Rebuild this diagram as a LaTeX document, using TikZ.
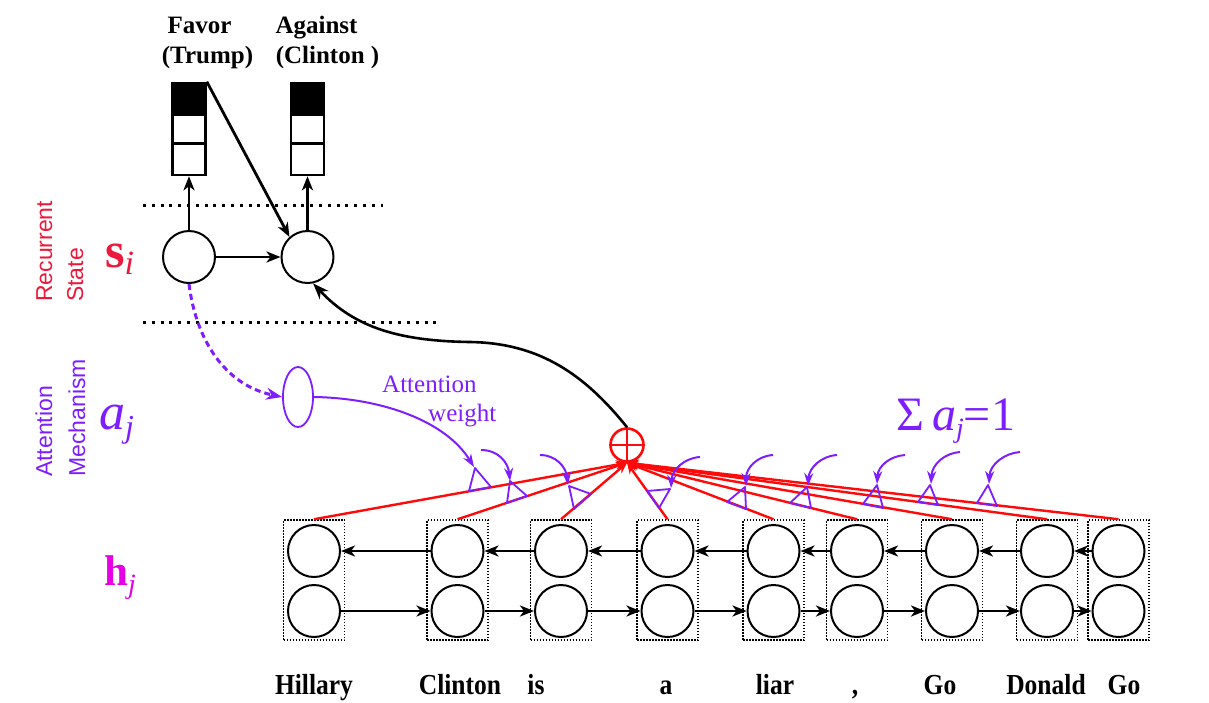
\documentclass[tikz,border=0pt]{standalone}
\usepackage{fontspec}
\setmainfont{Liberation Serif}
\newfontfamily\arialf{Liberation Sans}
\newfontfamily\condf[FakeStretch=0.88]{Liberation Serif}
\usetikzlibrary{arrows.meta,calc,shapes.geometric}
\definecolor{myred}{RGB}{235,25,60}
\definecolor{purp}{RGB}{125,30,255}
\definecolor{mag}{RGB}{230,0,230}
\definecolor{lred}{RGB}{255,10,10}
\begin{document}
\begin{tikzpicture}[x=1pt,y=-1pt,
  cell/.style={circle,draw,line width=2pt,minimum size=52pt,inner sep=0pt},
  hbox/.style={draw,line width=1.5pt,dash pattern=on 1.5pt off 1.5pt,minimum width=61pt,minimum height=120pt,inner sep=0pt},
  outbox/.style={draw,line width=2.6pt,minimum width=33pt,minimum height=92pt,inner sep=0pt},
  blk/.style={line width=2.8pt,-{Stealth[length=14pt,width=11pt,inset=4pt]}},
  redln/.style={draw=lred,line width=2.4pt,-{Stealth[length=11pt,width=9pt]}},
  pa/.style={draw=purp,line width=2pt,-{Stealth[length=13pt,width=9pt]}},
  tri/.style={draw=purp,line width=1.8pt,line join=round},
  dotln/.style={line width=3pt,dash pattern=on 3pt off 5.8pt},
  sidelab/.style={rotate=90,anchor=base west,inner sep=0pt,font=\arialf\fontsize{23}{28}\selectfont},
  toplab/.style={anchor=base,inner sep=0pt,font=\bfseries\fontsize{25}{30}\selectfont},
  word/.style={anchor=base,inner sep=0pt,font=\condf\bfseries\fontsize{29}{32}\selectfont}
]
\useasboundingbox (0,0) rectangle (1209,702);
\fill[white] (0,0) rectangle (1209,702);

% ---- output layer ----
\node[toplab] (fav) at (199.5,33) {Favor};
\node[toplab] (tru) at (207.5,63) {(Trump)};
\node[toplab] (aga) at (316.5,33) {Against};
\node[toplab] (cli) at (327.5,63) {(Clinton )};

\node[outbox] (o1) at (189,129) {};
\node[outbox] (o2) at (307.5,129) {};
\foreach \o in {o1,o2}{
  \fill (\o.north west) rectangle ($(\o.north east)+(0,33)$);
  \draw[line width=2.6pt] ($(\o.north west)+(0,33)$) -- ($(\o.north east)+(0,33)$);
  \draw[line width=2.6pt] ($(\o.north west)+(0,62)$) -- ($(\o.north east)+(0,62)$);
}

% ---- recurrent state ----
\coordinate (d1a) at (143,205); \coordinate (d1b) at (383,205);
\coordinate (d2a) at (143,322); \coordinate (d2b) at (440,322);
\draw[dotln] (d1a) -- (d1b);
\draw[dotln] (d2a) -- (d2b);

\node[cell] (c1) at (189,257) {};
\node[cell] (c2) at (307.5,257) {};
\draw[blk] (c1) -- (o1);
\draw[blk] (c2) -- (o2);
\draw[blk] (c1) -- (c2);
\draw[blk] (o1.north east) -- (c2.132);

\node[sidelab,text=myred] (rec) at (52,302) {Recurrent};
\node[sidelab,text=myred] (sta) at (83,302) {State};
\node[anchor=base west,inner sep=0pt,text=myred,font=\fontsize{50}{52}\selectfont] (si) at (105,267)
  {\textbf{s}\raisebox{-7pt}{\fontsize{34}{34}\selectfont\itshape i}};

% ---- attention ----
\node[sidelab,text=purp] (att) at (52,477) {Attention};
\node[sidelab,text=purp] (mec) at (85,477) {Mechanism};
\node[anchor=base west,inner sep=0pt,text=purp,font=\fontsize{52}{54}\selectfont\itshape] (aj) at (99,429)
  {a\raisebox{-8pt}{\fontsize{32}{32}\selectfont j}};

\node[draw=purp,ellipse,line width=1.8pt,minimum width=30pt,minimum height=60pt,inner sep=0pt] (ell) at (298,397) {};
\draw[draw=purp,line width=3pt,dash pattern=on 6pt off 4pt,-{Stealth[length=16pt,width=12pt]}]
  (c1.south) .. controls (196,340) and (225,385) .. (ell.west);

\node[anchor=base west,inner sep=0pt,text=purp,font=\fontsize{25}{30}\selectfont] (aw1) at (382,392) {Attention};
\node[anchor=base west,inner sep=0pt,text=purp,font=\fontsize{25}{30}\selectfont] (aw2) at (428,421) {weight};

\node[anchor=base west,inner sep=0pt,text=purp,font=\fontsize{48}{50}\selectfont] (sum) at (896,430)
  {Σ\,\textit{a}\raisebox{-7pt}{\fontsize{28}{28}\selectfont\textit{j}}=1};

% ---- encoder ----
\node[anchor=base west,inner sep=0pt,text=mag,font=\fontsize{43}{45}\selectfont] (hj) at (104,585)
  {\textbf{h}\raisebox{-8pt}{\fontsize{28}{28}\selectfont\itshape j}};

\foreach \i/\x in {1/314,2/457.5,3/561,4/667.5,5/773.5,6/857,7/952,8/1047,9/1118.5}{
  \node[hbox] (box\i) at (\x,580) {};
  \node[cell] (t\i) at (\x,551) {};
  \node[cell] (b\i) at (\x,611) {};
}
\foreach \i/\j in {1/2,2/3,3/4,4/5,5/6,6/7,7/8,8/9}{
  \draw[blk] (t\j) -- (t\i);
  \draw[blk] (b\i) -- (b\j);
}

% ---- combination ----
\node[circle,draw=lred,line width=2.6pt,minimum size=33pt,inner sep=0pt] (op) at (627,445) {};
\draw[lred,line width=2.6pt] (op.north) -- (op.south) (op.west) -- (op.east);
\foreach \i in {1,...,9}{
  \draw[redln] (box\i.north) -- (op.south);
}
\draw[line width=2.6pt,-{Stealth[length=16pt,width=12pt,inset=5pt]}]
  (op.north) .. controls (585,375) and (540,343) .. (470,342)
  .. controls (400,341) and (355,328) .. (c2.-78);

% ---- attention weights ----
\draw[pa] (ell.east) .. controls (380,398) and (445,420) .. (474,467);
\draw[pa] (481,450) .. controls (498,450) and (508,462) .. (510,481);
\draw[pa] (540,455) .. controls (556,455) and (566,467) .. (568,485);
\draw[pa] (700,457) .. controls (684,458) and (672,470) .. (671,488);
\draw[pa] (773,455) .. controls (757,456) and (746,468) .. (746,486);
\draw[pa] (837,455) .. controls (821,456) and (809,468) .. (808,486);
\draw[pa] (905,455) .. controls (890,456) and (878,466) .. (877,484);
\draw[pa] (960,452) .. controls (945,453) and (932,464) .. (931,484);
\draw[pa] (1020,452) .. controls (1005,453) and (990,464) .. (989,484);

\draw[tri] (475,468) -- (469,491) -- (491,487) -- cycle;
\draw[tri] (510,481) -- (507,503) -- (527,496) -- cycle;
\draw[tri] (569,486) -- (574,509) -- (591,494) -- cycle;
\draw[tri] (670,489) -- (647,491) -- (659,508) -- cycle;
\draw[tri] (745,487) -- (727,502) -- (746,509) -- cycle;
\draw[tri] (807,487) -- (790,503) -- (811,508) -- cycle;
\draw[tri] (877,485) -- (863,504) -- (883,508) -- cycle;
\draw[tri] (930,485) -- (918,502) -- (938,505) -- cycle;
\draw[tri] (988,485) -- (977,503) -- (997,506) -- cycle;

% ---- words ----
\foreach \x/\w [count=\k] in {314/Hillary,460/Clinton,536/is,666/a,775/liar,855/{,},940/Go,1046/Donald,1124/Go}{
  \node[word] (w\k) at (\x,694) {\w};
}
\end{tikzpicture}
\end{document}
